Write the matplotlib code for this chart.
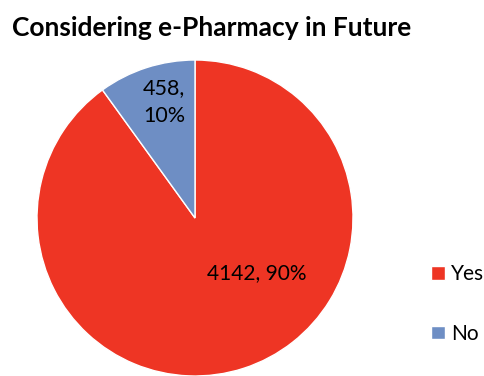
import matplotlib
matplotlib.use('Agg')
import matplotlib.pyplot as plt

# 데이터
labels = ['Yes', 'No']
counts = [4142, 458]
percents = [90, 10]
colors = ['#EE3524', '#6E8EC4']

W, H = 484, 376
fig = plt.figure(figsize=(W / 100, H / 100), dpi=100)

# 파이 영역 (중심 195,218 / 반지름 158 픽셀)
cx, cy, r = 195, 218, 158
ax = fig.add_axes([(cx - r) / W, (H - cy - r) / H, 2 * r / W, 2 * r / H])
wedges, _ = ax.pie(counts, colors=colors, startangle=90, counterclock=False,
                   radius=1, wedgeprops=dict(edgecolor='white', linewidth=1))
ax.set_xlim(-1, 1)
ax.set_ylim(-1, 1)
ax.set_aspect('equal')

# 데이터 레이블
font = 'Lato'
ax.text(0.392, -0.348, f'{counts[0]}, {percents[0]}%', ha='center', va='center',
        fontsize=15, family=font)
ax.text(-0.196, 0.734, f'{counts[1]},\n{percents[1]}%', ha='center', va='center',
        fontsize=15.5, family=font, linespacing=1.55)

# 제목
fig.text(12 / W, 1 - 28 / H, 'Considering e-Pharmacy in Future', ha='left', va='center',
         fontsize=19, fontweight='bold', family=font)

# 범례
fig.legend(wedges, labels, loc='center left', bbox_to_anchor=(431 / W, 1 - 304 / H),
           frameon=False, handlelength=0.65, handleheight=0.65, handletextpad=0.3,
           labelspacing=1.9, borderpad=0, borderaxespad=0,
           prop=dict(family=font, size=15))

fig.savefig('out.png', dpi=100)
